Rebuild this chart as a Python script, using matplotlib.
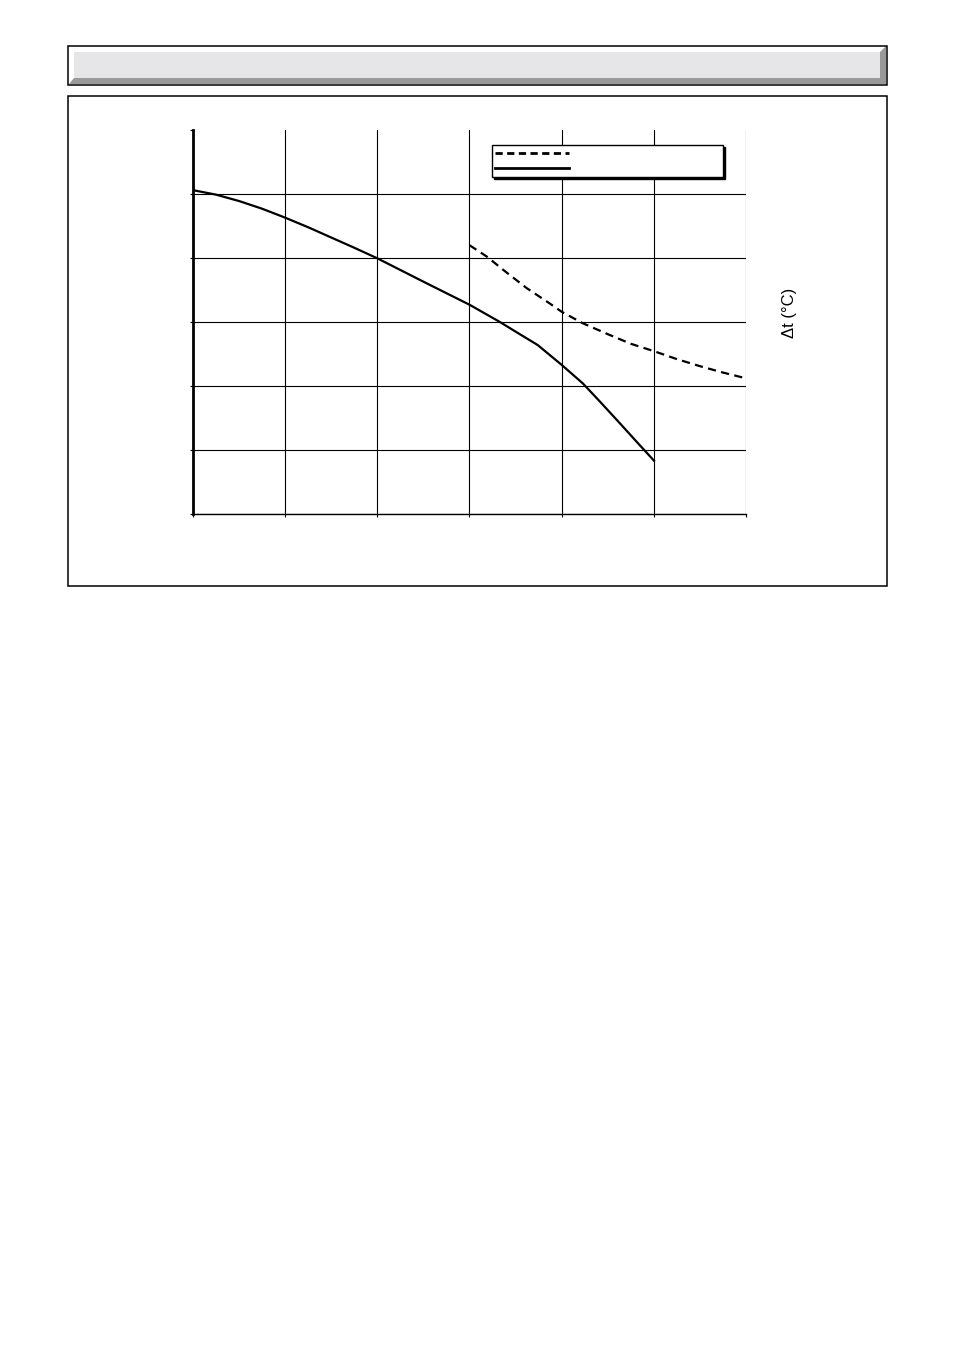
import matplotlib
matplotlib.use("Agg")
import matplotlib.pyplot as plt
from matplotlib.patches import Polygon, Rectangle
from matplotlib.lines import Line2D

plt.rcParams['font.family'] = ['Liberation Sans', 'DejaVu Sans']

W, H = 954, 1351

# curve values (grid units)
solid_x = [0.0, 0.25, 0.5, 0.75, 1.0, 1.25, 1.5, 1.75, 2.0, 2.5, 3.0, 3.33,
           3.5, 3.74, 4.0, 4.23, 4.4, 4.63, 4.8, 5.01]
solid_y = [5.06, 4.99, 4.89, 4.77, 4.63, 4.48, 4.32, 4.16, 3.995, 3.63, 3.27, 3.00,
           2.85, 2.64, 2.33, 2.04, 1.78, 1.42, 1.15, 0.82]

dash_x = [3.0, 3.19, 3.37, 3.62, 3.87, 4.0, 4.23, 4.5, 4.75, 5.01, 5.25, 5.5, 5.75, 6.0]
dash_y = [4.20, 4.02, 3.81, 3.53, 3.29, 3.16, 2.98, 2.81, 2.66, 2.54, 2.42, 2.31, 2.21, 2.12]

x_ticks = [0, 1, 2, 3, 4, 5, 6]
y_ticks = [0, 1, 2, 3, 4, 5, 6]
y_label = "\u0394t (\u00b0C)"


def px(x, y):
    # page pixel -> figure fraction
    return (x / W, 1 - y / H)


fig = plt.figure(figsize=(W / 100, H / 100), dpi=100)

# header bar with bevel
dark = Polygon([px(69, 84), px(74, 78), px(880, 78), px(880, 52), px(886, 46), px(886, 84)],
               closed=True, transform=fig.transFigure, facecolor='#999999', edgecolor='none')
fig.add_artist(dark)
x0, y0 = px(74, 78)
fig.add_artist(Rectangle((x0, y0), (880 - 74) / W, (78 - 52) / H, transform=fig.transFigure,
                         facecolor='#e6e6e8', edgecolor='none'))
x0, y0 = px(68, 84.5)
fig.add_artist(Rectangle((x0, y0), (886.5 - 68) / W, (84.5 - 45.5) / H, transform=fig.transFigure,
                         facecolor='none', edgecolor='black', lw=1.1))

# chart frame
x0, y0 = px(68, 586)
fig.add_artist(Rectangle((x0, y0), (886.5 - 68) / W, (586 - 96) / H, transform=fig.transFigure,
                         facecolor='none', edgecolor='black', lw=1.1))

ax = fig.add_axes([193 / W, 1 - 514 / H, (746 - 193) / W, (514 - 130) / H])
ax.set_xlim(0, 6)
ax.set_ylim(0, 6)
ax.set_xticks(x_ticks)
ax.set_yticks(y_ticks)
ax.set_xticklabels([])
ax.set_yticklabels([])
ax.tick_params(direction='out', length=2.5, width=0.8, color='black')
ax.spines['top'].set_visible(False)
ax.spines['right'].set_visible(False)
ax.spines['left'].set_linewidth(2.0)
ax.spines['bottom'].set_linewidth(1.0)
ax.grid(True, color='black', lw=0.8)
ax.set_axisbelow(True)
ax.get_ygridlines()[-1].set_visible(False)
ax.get_xgridlines()[0].set_visible(False)

ax.plot(solid_x, solid_y, color='black', lw=1.6, solid_capstyle='butt',
        solid_joinstyle='round', zorder=3)
ax.plot(dash_x, dash_y, color='black', lw=1.6, dashes=(3.7, 2.4), zorder=3)

handles = [Line2D([], [], color='black', lw=2.0, dashes=(2.6, 1.6)),
           Line2D([], [], color='black', lw=2.0)]
bx = (492 - 193) / 553
bw = (723 - 492) / 553
by = (514 - 145) / 384
leg = ax.legend(handles, ['', ''], loc='upper left', mode='expand',
                bbox_to_anchor=(bx, by - 0.2, bw, 0.2), bbox_transform=ax.transAxes,
                fontsize=7, handlelength=7.6, labelspacing=0.55, borderpad=0.35,
                handletextpad=0.5, borderaxespad=0, fancybox=False, framealpha=1,
                edgecolor='black', shadow={'color': 'black', 'alpha': 1, 'ox': 1.2, 'oy': -1.2})
leg.get_frame().set_linewidth(1.0)

ax.text((790 - 193) / 553, (514 - 313) / 384, y_label, transform=ax.transAxes,
        rotation=90, ha='center', va='center', fontsize=12, family='Liberation Sans')

fig.savefig("out.png", dpi=100)
